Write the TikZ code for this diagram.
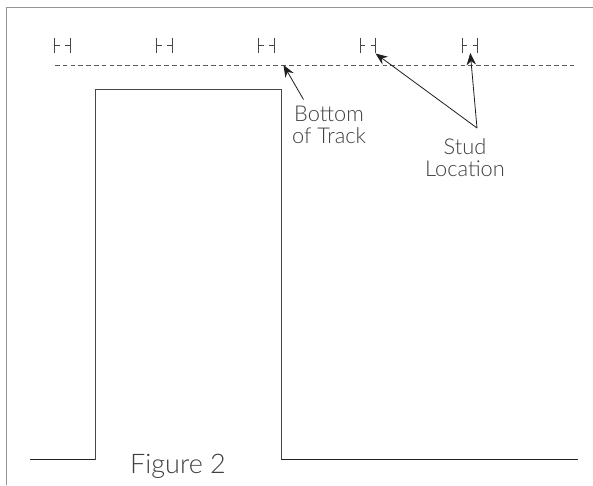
\documentclass[tikz,border=0pt]{standalone}
\usepackage{fontspec}
\setmainfont{Lato Light}
\usetikzlibrary{arrows.meta}
\definecolor{lab}{gray}{0.25}
\tikzset{
  frameline/.style={draw={rgb,255:red,150;green,150;blue,150},line width=1pt},
  wall/.style={draw={rgb,255:red,70;green,70;blue,70},line width=1pt},
  floorline/.style={draw={rgb,255:red,35;green,35;blue,35},line width=1pt},
  trackline/.style={draw={rgb,255:red,90;green,90;blue,90},line width=1pt,dash pattern=on 4.6pt off 3.2pt},
  studmark/.style={draw={rgb,255:red,70;green,70;blue,70},line width=0.8pt},
  pointer/.style={draw={rgb,255:red,30;green,30;blue,30},line width=0.8pt,-{Stealth[length=12pt,width=9.5pt]}},
  lbl/.style={text=lab,font=\fontsize{21.8}{22}\selectfont,align=center,inner sep=0pt},
}
\newcommand{\studsign}[1]{%
  \draw[studmark] (#1,37.5) -- (#1,52.5);
  \draw[studmark] (#1+15.5,37.5) -- (#1+15.5,52.5);
  \draw[studmark] (#1,45) -- (#1+5,45);
  \draw[studmark] (#1+10.5,45) -- (#1+15.5,45);
}
\begin{document}
\begin{tikzpicture}[x=1pt,y=-1pt]
\useasboundingbox (0,0) rectangle (593,485);
\fill[white] (0,0) rectangle (593,485);
\draw[frameline] (6.5,485) -- (6.5,7.5) -- (593,7.5);
\studsign{54.5}
\studsign{156.5}
\studsign{258.5}
\studsign{360}
\studsign{462}
\coordinate (trackL) at (55,65);
\coordinate (trackR) at (575,65);
\draw[trackline] (trackL) -- (trackR);
\coordinate (f1) at (30,459.5);
\coordinate (c1) at (95,459.5);
\coordinate (c2) at (95,89.5);
\coordinate (c3) at (281,89.5);
\coordinate (c4) at (281,459.5);
\coordinate (f2) at (578,459.5);
\draw[wall] (c1) -- (c2) -- (c3) -- (c4);
\draw[floorline] (f1) -- (c1);
\draw[floorline] (c4) -- (f2);
\node[lbl,anchor=center] (bottomlabel) at (329,125) {Bottom\\of Track};
\node[lbl,anchor=center] (studlabel) at (465,158) {Stud\\Location};
\node[lbl,anchor=center,font=\fontsize{27}{30}\selectfont] (figlabel) at (178,466) {Figure 2};
\coordinate (a0) at (303.5,99.5);
\coordinate (a1) at (283.5,65);
\coordinate (a2) at (477,128);
\coordinate (a3) at (375.5,53.5);
\coordinate (a4) at (470.3,53);
\draw[pointer] (a0) -- (a1);
\draw[pointer] (a2) -- (a3);
\draw[pointer] (a2) -- (a4);
\end{tikzpicture}
\end{document}
